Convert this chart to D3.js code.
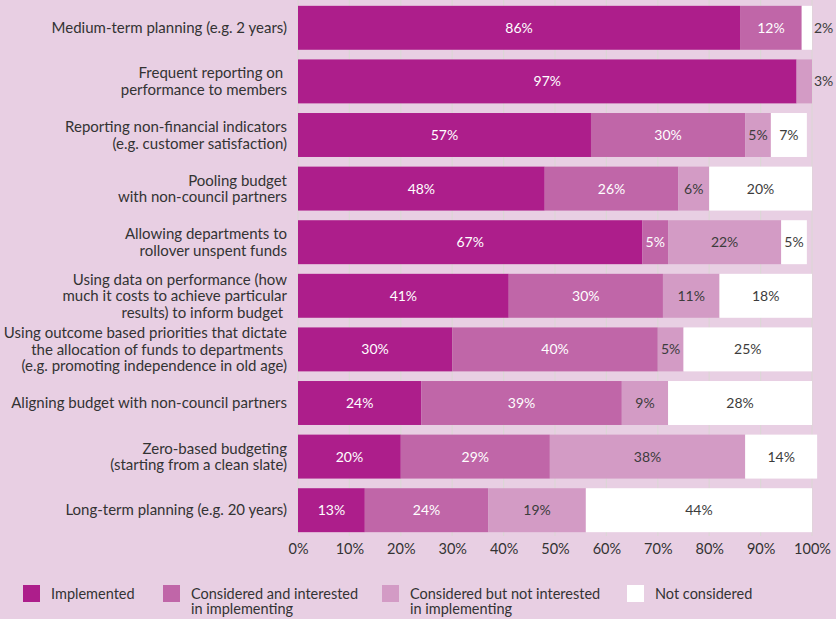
<!DOCTYPE html>
<html>
<head>
<meta charset="utf-8">
<script src="https://cdn.jsdelivr.net/npm/d3@7"></script>
<style>
  html, body { margin: 0; padding: 0; background: #e8cfe3; }
  svg { display: block; font-family: Lato, "Open Sans", sans-serif; }
</style>
</head>
<body>
<svg id="chart" width="836" height="619"></svg>
<script>
// Budgeting practices, share of councils by status (percent)
const categories = [
  ["Medium-term planning (e.g. 2 years)"],
  ["Frequent reporting on ", "performance to members"],
  ["Reporting non-financial indicators", "(e.g. customer satisfaction)"],
  ["Pooling budget", "with non-council partners"],
  ["Allowing departments to", "rollover unspent funds"],
  ["Using data on performance (how", "much it costs to achieve particular", "results) to inform budget "],
  ["Using outcome based priorities that dictate", "the allocation of funds to departments ", "(e.g. promoting independence in old age)"],
  ["Aligning budget with non-council partners"],
  ["Zero-based budgeting", "(starting from a clean slate)"],
  ["Long-term planning (e.g. 20 years)"]
];
const implemented          = [86, 97, 57, 48, 67, 41, 30, 24, 20, 13];
const consideredInterested = [12,  0, 30, 26,  5, 30, 40, 39, 29, 24];
const consideredNot        = [ 0,  3,  5,  6, 22, 11,  5,  9, 38, 19];
const notConsidered        = [ 2,  0,  7, 20,  5, 18, 25, 28, 14, 44];
const seriesNames = [
  ["Implemented"],
  ["Considered and interested", "in implementing"],
  ["Considered but not interested", "in implementing"],
  ["Not considered"]
];
const xTicks = [0, 10, 20, 30, 40, 50, 60, 70, 80, 90, 100];

const colors = ["#ad1e8b", "#c066a8", "#d39bc5", "#ffffff"];
const labelColors = ["#ffffff", "#ffffff", "#3c3c3c", "#3c3c3c"];
const textColor = "#333333";

const svg = d3.select("#chart");
const x = d3.scaleLinear().domain([0, 100]).range([298, 812]);
const y = d3.scaleBand().domain(d3.range(categories.length)).range([1, 537]).paddingInner(0.18).paddingOuter(0.09);

// vertical gridlines behind the bars
svg.append("g").selectAll("line").data(xTicks).join("line")
  .attr("x1", d => x(d)).attr("x2", d => x(d))
  .attr("y1", 0).attr("y2", 536)
  .attr("stroke", "#dcd6d6").attr("stroke-width", 1.2);

// stack rows
const rows = categories.map((c, i) => ({
  i, vals: [implemented[i], consideredInterested[i], consideredNot[i], notConsidered[i]]
}));
const segs = [];
rows.forEach(r => {
  let acc = 0;
  r.vals.forEach((v, k) => {
    segs.push({ row: r.i, k, v, x0: acc, x1: acc + v });
    acc += v;
  });
});
const narrow = s => x(s.x1) - x(s.x0) < 18;

const g = svg.append("g");
g.selectAll("rect").data(segs.filter(s => s.v > 0)).join("rect")
  .attr("x", s => x(s.x0))
  .attr("y", s => y(s.row))
  .attr("width", s => x(s.x1) - x(s.x0))
  .attr("height", y.bandwidth())
  .attr("fill", s => colors[s.k]);

// value labels: centered in the segment, or just past the bar end when too narrow
g.selectAll("text").data(segs.filter(s => s.v > 0)).join("text")
  .attr("x", s => narrow(s) ? x(100) + 2 : (x(s.x0) + x(s.x1)) / 2)
  .attr("y", s => y(s.row) + y.bandwidth() / 2)
  .attr("dy", "0.35em")
  .attr("text-anchor", s => narrow(s) ? "start" : "middle")
  .attr("fill", s => narrow(s) ? "#3c3c3c" : labelColors[s.k])
  .attr("font-size", 14)
  .text(s => s.v + "%");

// category labels
const lh = 16.5;
const cat = svg.append("g");
categories.forEach((lines, i) => {
  const cy = y(i) + y.bandwidth() / 2;
  lines.forEach((ln, j) => {
    cat.append("text")
      .attr("text-anchor", "end")
      .attr("fill", textColor)
      .attr("font-size", 15)
      .style("white-space", "pre")
      .attr("x", 287)
      .attr("y", cy + (j - (lines.length - 1) / 2) * lh)
      .attr("dy", "0.35em")
      .text(ln);
  });
});

// x axis tick labels
const axis = d3.axisBottom(x).tickValues(xTicks).tickFormat(d => d + "%").tickSize(0).tickPadding(0);
const ax = svg.append("g").attr("transform", "translate(0,544)").call(axis);
ax.select(".domain").remove();
ax.selectAll("text").attr("fill", textColor).attr("font-size", 14.5).attr("font-family", "Lato, 'Open Sans', sans-serif");

// legend
const legendX = [23, 163, 382, 627];
const leg = svg.append("g");
seriesNames.forEach((lines, k) => {
  leg.append("rect")
    .attr("x", legendX[k]).attr("y", 585)
    .attr("width", 17).attr("height", 17)
    .attr("fill", colors[k]);
  lines.forEach((ln, j) => {
    leg.append("text")
      .attr("fill", textColor)
      .attr("font-size", 14.5)
      .attr("x", legendX[k] + 28)
      .attr("y", 599 + j * 15)
      .text(ln);
  });
});
</script>
</body>
</html>
